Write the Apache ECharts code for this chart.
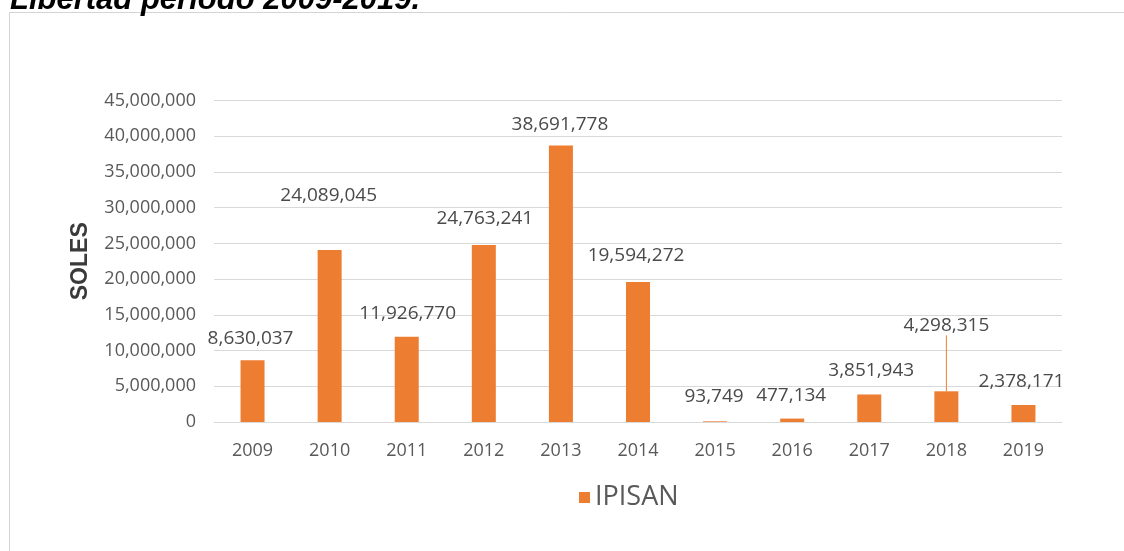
<!DOCTYPE html>
<html>
<head>
<meta charset="utf-8">
<title>IPISAN 2009-2019</title>
<script src="https://cdn.jsdelivr.net/npm/echarts@6/dist/echarts.min.js"></script>
<style>
  html, body { margin: 0; padding: 0; background: #ffffff; }
  #chart { width: 1124px; height: 551px; }
</style>
</head>
<body>
<div id="chart"></div>
<script>
// Yearly amounts (soles) for IPISAN
const years = ['2009', '2010', '2011', '2012', '2013', '2014', '2015', '2016', '2017', '2018', '2019'];
const ipisan = [8630037, 24089045, 11926770, 24763241, 38691778, 19594272, 93749, 477134, 3851943, 4298315, 2378171];
const seriesName = 'IPISAN';
const axisTitle = 'SOLES';
const headline = 'Libertad período 2009-2019.';

// value label nudges [dx, dy] so labels sit where they read clearly
const labelNudge = [[-2, -12], [-1, -44], [1, -13], [1, -16], [-1, -11], [-2, -16],
                    [-1, -15], [-1, -13], [2, -14], [0, -56], [-2, -13]];
const leaderIndex = 9;

const fmt = v => Number(v).toLocaleString('en-US');

const chart = echarts.init(document.getElementById('chart'), null, { renderer: 'canvas' });

const barData = ipisan.map((v, i) => {
  const item = { value: v };
  if (i === leaderIndex) {
    item.labelLine = { show: true, lineStyle: { color: '#ED7D31', width: 1 } };
  }
  return item;
});

chart.setOption({
  backgroundColor: '#ffffff',
  animation: false,
  graphic: [
    {
      type: 'rect',
      shape: { x: 9.5, y: 12.5, width: 1300, height: 700 },
      style: { fill: '#ffffff', stroke: '#d4d4d4', lineWidth: 1 },
      z: -10
    },
    {
      type: 'text',
      style: {
        x: 10, y: 0,
        text: headline,
        fill: '#000000',
        font: 'italic bold 31px "Liberation Sans", Arial, sans-serif',
        verticalAlign: 'middle'
      }
    }
  ],
  grid: { left: 214, width: 848, top: 100.5, bottom: 129 },
  legend: {
    left: 574, top: 479,
    icon: 'rect', itemWidth: 11, itemHeight: 11, itemGap: 6,
    textStyle: { color: '#595959', fontFamily: 'Open Sans', fontSize: 27, padding: [0, 0, 0, 0] },
    data: [seriesName]
  },
  xAxis: {
    type: 'category',
    data: years,
    axisLine: { lineStyle: { color: '#d9d9d9' } },
    axisTick: { show: false },
    axisLabel: { color: '#595959', fontFamily: 'Open Sans', fontSize: 18, margin: 20 }
  },
  yAxis: {
    type: 'value',
    min: 0, max: 45000000, interval: 5000000,
    name: axisTitle,
    nameLocation: 'middle',
    nameRotate: 90,
    nameGap: 122,
    nameTextStyle: { color: '#3a3a3a', fontFamily: 'Liberation Sans', fontWeight: 'bold', fontSize: 23 },
    axisLine: { show: false },
    axisTick: { show: false },
    splitLine: { lineStyle: { color: '#d9d9d9' } },
    axisLabel: { color: '#595959', fontFamily: 'Open Sans', fontSize: 18, margin: 18, formatter: fmt }
  },
  series: [{
    name: seriesName,
    type: 'bar',
    data: barData,
    barWidth: 24,
    itemStyle: { color: '#ED7D31' },
    label: {
      show: true,
      position: 'top',
      distance: 0,
      lineHeight: 20,
      color: '#4a4a4a',
      fontFamily: 'Open Sans',
      fontSize: 19,
      formatter: p => fmt(p.value)
    },
    labelLayout: p => ({ dx: labelNudge[p.dataIndex][0], dy: labelNudge[p.dataIndex][1] })
  }]
});
</script>
</body>
</html>
